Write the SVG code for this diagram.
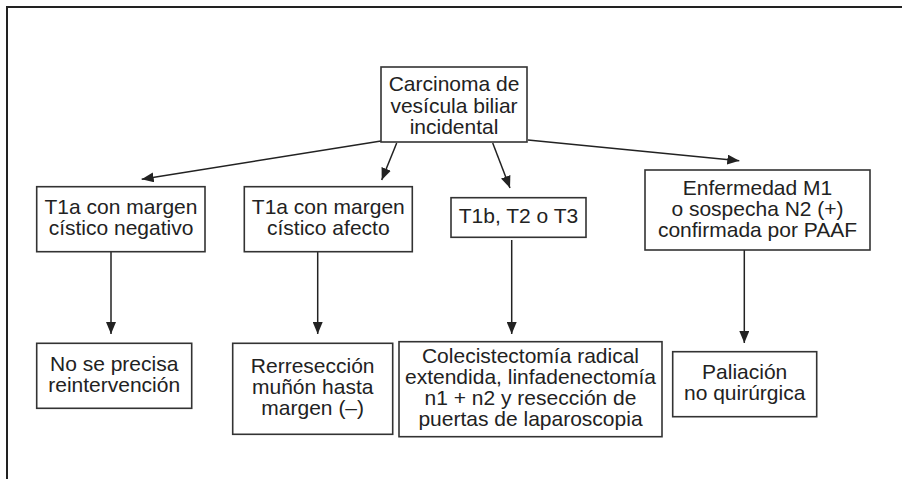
<svg xmlns="http://www.w3.org/2000/svg" width="902" height="479" viewBox="0 0 902 479">
<defs>
<marker id="ah" viewBox="0 0 12 10" refX="12" refY="5" markerWidth="12" markerHeight="10" markerUnits="userSpaceOnUse" orient="auto">
<path d="M0,0 L12,5 L0,10 Z" fill="#222"/>
</marker>
</defs>
<style>
.box{fill:#fff;stroke:#333;stroke-width:1.6}
.t{font-family:"Liberation Sans",Arial,sans-serif;font-size:21px;fill:#222;text-anchor:middle}
.c{fill:none;stroke:#222;stroke-width:1.5;marker-end:url(#ah)}
</style>
<rect width="902" height="479" fill="#fff"/>
<path d="M7,479 V7 H902" fill="none" stroke="#222" stroke-width="2"/>
<g id="connectors">
<path class="c" d="M381,141 L141.7,179.3"/>
<path class="c" d="M396.7,143 L381.7,180"/>
<path class="c" d="M492.7,143 L510,188"/>
<path class="c" d="M528,140 L739.3,160.7"/>
<path class="c" d="M111,252 V334"/>
<path class="c" d="M317.7,252 V334"/>
<path class="c" d="M511.7,240 V334"/>
<path class="c" d="M744.3,250 V343"/>
</g>
<g id="root">
<rect class="box" x="381" y="67" width="146" height="75"/>
<text class="t" x="454" y="90.5">Carcinoma de</text>
<text class="t" x="454" y="112.5">vesícula biliar</text>
<text class="t" x="454" y="133.5">incidental</text>
</g>
<g id="t1a-neg">
<rect class="box" x="36.7" y="186.7" width="168.3" height="65"/>
<text class="t" x="121" y="214">T1a con margen</text>
<text class="t" x="121" y="235">cístico negativo</text>
</g>
<g id="t1a-afecto">
<rect class="box" x="244.3" y="186.7" width="168" height="65"/>
<text class="t" x="328.3" y="214">T1a con margen</text>
<text class="t" x="328.3" y="235">cístico afecto</text>
</g>
<g id="t1b">
<rect class="box" x="451" y="197.7" width="135" height="39.6"/>
<text class="t" x="518.5" y="223">T1b, T2 o T3</text>
</g>
<g id="m1">
<rect class="box" x="645" y="170" width="225" height="80"/>
<text class="t" x="757.5" y="195">Enfermedad M1</text>
<text class="t" x="757.5" y="216">o sospecha N2 (+)</text>
<text class="t" x="757.5" y="237">confirmada por PAAF</text>
</g>
<g id="no-reint">
<rect class="box" x="36.7" y="343.3" width="155" height="65"/>
<text class="t" x="114.2" y="371">No se precisa</text>
<text class="t" x="114.2" y="392">reintervención</text>
</g>
<g id="rerreseccion">
<rect class="box" x="232.7" y="343.3" width="160" height="91"/>
<text class="t" x="312.7" y="373">Rerresección</text>
<text class="t" x="312.7" y="394">muñón hasta</text>
<text class="t" x="312.7" y="415">margen (–)</text>
</g>
<g id="colecistectomia">
<rect class="box" x="399" y="341.7" width="263" height="95"/>
<text class="t" x="530.5" y="362.5">Colecistectomía radical</text>
<text class="t" x="530.5" y="383.5">extendida, linfadenectomía</text>
<text class="t" x="530.5" y="404.5">n1 + n2 y resección de</text>
<text class="t" x="530.5" y="425.5">puertas de laparoscopia</text>
</g>
<g id="paliacion">
<rect class="box" x="672.7" y="351.7" width="144" height="65"/>
<text class="t" x="744.7" y="379">Paliación</text>
<text class="t" x="744.7" y="400">no quirúrgica</text>
</g>
</svg>
